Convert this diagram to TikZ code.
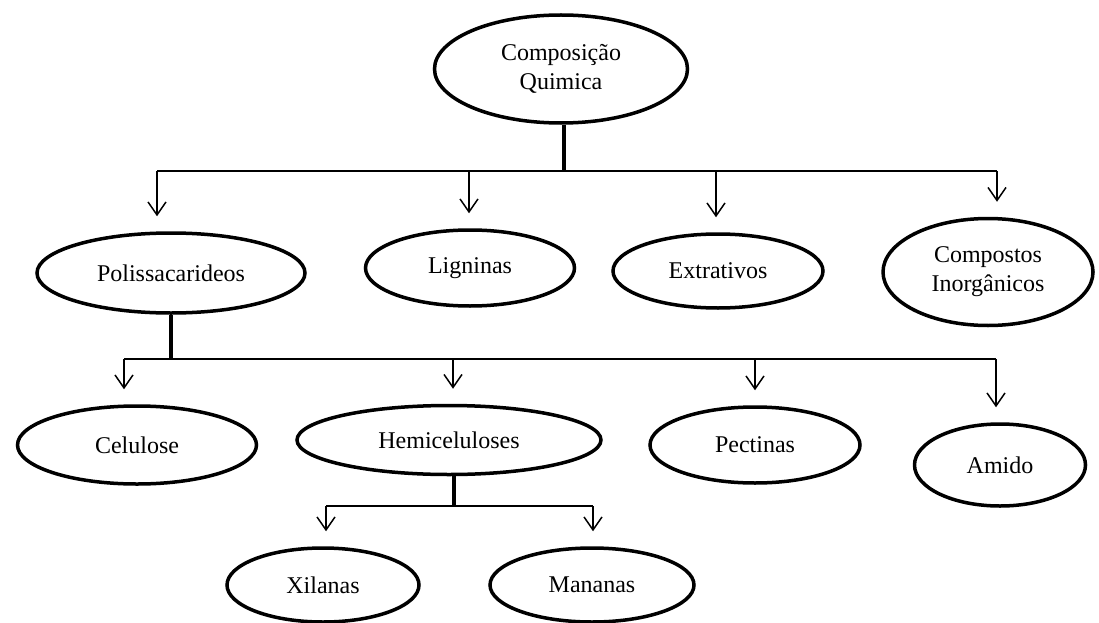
\documentclass[tikz,border=0pt]{standalone}
\usepackage{fontspec}
\setmainfont{Liberation Serif}
\usetikzlibrary{arrows.meta,shapes.geometric}
\tikzset{part/.style={ellipse,draw,line width=3.5pt,inner sep=0pt,align=center,font=\fontsize{24}{29}\selectfont},trunk/.style={line width=4pt},feed/.style={line width=1.5pt},branch/.style={-{Straight Barb[length=13pt,width=18pt,line width=1.5pt]},line width=1.5pt,shorten >=15pt}}

\begin{document}
\begin{tikzpicture}[x=1pt,y=-1pt]
\useasboundingbox (0,0) rectangle (1099,623);
\node[part,minimum width=253pt,minimum height=108pt] (comp) at (561,69) {Composição\\Quimica};
\node[part,minimum width=268pt,minimum height=80pt] (polis) at (171,273) {Polissacarideos};
\node[part,minimum width=209pt,minimum height=76pt] (lign) at (470,268) {Ligninas};
\node[part,minimum width=210pt,minimum height=74pt] (extr) at (718,271) {Extrativos};
\node[part,minimum width=210pt,minimum height=107pt] (inorg) at (988,272) {Compostos\\Inorgânicos};
\node[part,minimum width=239pt,minimum height=78pt] (celu) at (137,445) {Celulose};
\node[part,minimum width=304pt,minimum height=69pt] (hemi) at (449,440) {Hemiceluloses};
\node[part,minimum width=210pt,minimum height=76pt] (pect) at (755,445) {Pectinas};
\node[part,minimum width=171pt,minimum height=82pt] (amido) at (1000,465) {Amido};
\node[part,minimum width=192pt,minimum height=74pt] (xil) at (323,585) {Xilanas};
\node[part,minimum width=204pt,minimum height=74pt] (man) at (592,585) {Mananas};
\coordinate (r1) at (0,171);
\coordinate (r2) at (0,359);
\coordinate (r3) at (0,506);
\draw[trunk] ([xshift=3pt]comp.south) -- ([xshift=3pt]comp.south |- r1);
\draw[feed] ([xshift=-14pt]polis.north |- r1) -- ([xshift=9pt]inorg.north |- r1);
\foreach \n/\dx in {polis/-14,lign/-1,extr/-2,inorg/9}{
\draw[branch] ([xshift=\dx pt]\n.north |- r1) -- ([xshift=\dx pt]\n.north);
}
\draw[trunk] (polis.south) -- (polis.south |- r2);
\draw[feed] ([xshift=-13pt]celu.north |- r2) -- ([xshift=-4pt]amido.north |- r2);
\foreach \n/\dx in {celu/-13,hemi/4,pect/0,amido/-4}{
\draw[branch] ([xshift=\dx pt]\n.north |- r2) -- ([xshift=\dx pt]\n.north);
}
\draw[trunk] ([xshift=5pt]hemi.south) -- ([xshift=5pt]hemi.south |- r3);
\draw[feed] ([xshift=3pt]xil.north |- r3) -- ([xshift=1pt]man.north |- r3);
\foreach \n/\dx in {xil/3,man/1}{
\draw[branch] ([xshift=\dx pt]\n.north |- r3) -- ([xshift=\dx pt]\n.north);
}
\end{tikzpicture}
\end{document}
